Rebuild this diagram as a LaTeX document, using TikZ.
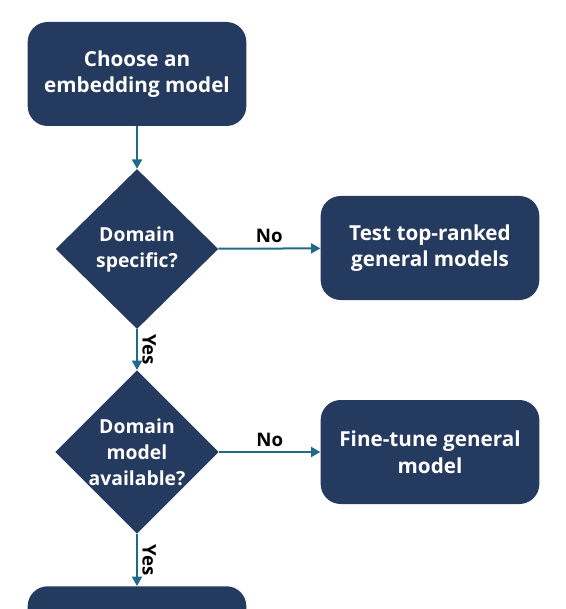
\documentclass[tikz,border=0pt]{standalone}
\usepackage{fontspec}
\setmainfont{Open Sans}
\usepackage{tikz}
\usetikzlibrary{arrows.meta}
\usetikzlibrary{shapes.geometric}
\definecolor{navy}{HTML}{243A5E}
\definecolor{flow}{HTML}{1F6A8C}
\tikzset{>={Triangle[length=7pt,width=7.5pt]}}
\tikzstyle{stepbox} = [rectangle, rounded corners=15pt, fill=navy, text=white, font=\bfseries\fontsize{15.5}{20}\selectfont, align=center, minimum width=164pt, minimum height=78pt, inner sep=2pt]
\tikzstyle{decision} = [diamond, fill=navy, text=white, font=\bfseries\fontsize{14.5}{19.5}\selectfont, align=center, minimum width=122pt, minimum height=120pt, inner sep=0pt]
\tikzstyle{link} = [->, draw=flow, line width=1.5pt]
\tikzstyle{answer} = [draw=none, text=black, font=\bfseries\fontsize{14}{16}\selectfont]

\begin{document}
\begin{tikzpicture}[x=0.75pt, y=-0.75pt]
\clip (0,0) rectangle (565,609);
\node [stepbox] (start) at (137, 74) {Choose an\\embedding model};
\node [decision] (domain) at (137, 249) {Domain\\specific?};
\node [stepbox] (test) at (430, 248) {Test top-ranked\\general models};
\node [decision] (domainmodel) at (137, 452) {Domain\\model\\available?};
\node [stepbox] (finetune) at (430, 452) {Fine-tune general\\model};
\node [stepbox, anchor=north] (usedomain) at (137, 586) {};
\draw [link] (start) to (domain);
\draw [link] (domain) to node[pos=0.5, answer, above] {No} (test);
\draw [link] (domain) to node[pos=0.5, answer, rotate=-90, anchor=south] {Yes} (domainmodel);
\draw [link] (domainmodel) to node[pos=0.5, answer, above] {No} (finetune);
\draw [link] (domainmodel) to node[pos=0.5, answer, rotate=-90, anchor=south] {Yes} (usedomain);
\end{tikzpicture}
\end{document}
